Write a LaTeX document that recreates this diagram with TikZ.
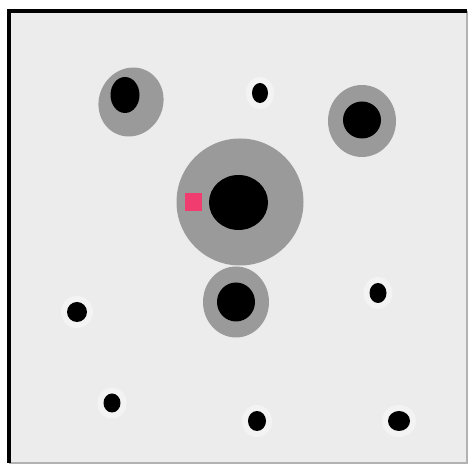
\documentclass[tikz,border=0pt]{standalone}
\usepackage{tikz}

\definecolor{plate}{HTML}{ECECEC}
\definecolor{halo}{HTML}{9A9A9A}
\definecolor{marker}{HTML}{F03C6E}

\begin{document}
\begin{tikzpicture}[
  x=0.02cm, y=-0.02cm,
  shell/.style={fill=halo},
  core/.style={fill=black},
  glow/.style={fill=white, opacity=0.4},
]
  \useasboundingbox (0,0) rectangle (474,465);
  \fill[white] (0,0) rectangle (474,465);

  % plate and frame
  \fill[plate] (9,11) rectangle (467,463);
  \draw[gray!60, line width=0.6pt] (9,463) -- (467,463) -- (467,11);
  \draw[black, line width=1.8pt] (9,463) -- (9,11) -- (467,11);

  % large bodies with shells
  \fill[shell, rotate around={-25:(131,102)}] (131,102) ellipse (32 and 35);
  \fill[core] (125,95) ellipse (14.5 and 18);

  \fill[shell] (362,121) ellipse (34 and 36);
  \fill[core] (362,120) ellipse (19 and 18.5);

  \fill[shell] (240,202) circle (63.5);
  \fill[core] (238.5,202.5) ellipse (29.5 and 27.5);
  \fill[marker] (185,193) rectangle (202,211);

  \fill[shell] (236,302) ellipse (33 and 35.5);
  \fill[core] (236,302) ellipse (19 and 19.5);

  % small dots
  \foreach \cx/\cy/\rx/\ry in {260/93/8/10, 77/312/10/10, 378/293/8.5/10,
      112/403/8.5/9.5, 257/421/9/10, 399/421/11/10} {
    \fill[glow] (\cx,\cy) ellipse [x radius=\rx+6, y radius=\ry+6];
    \fill[core] (\cx,\cy) ellipse [x radius=\rx, y radius=\ry];
  }
\end{tikzpicture}
\end{document}
